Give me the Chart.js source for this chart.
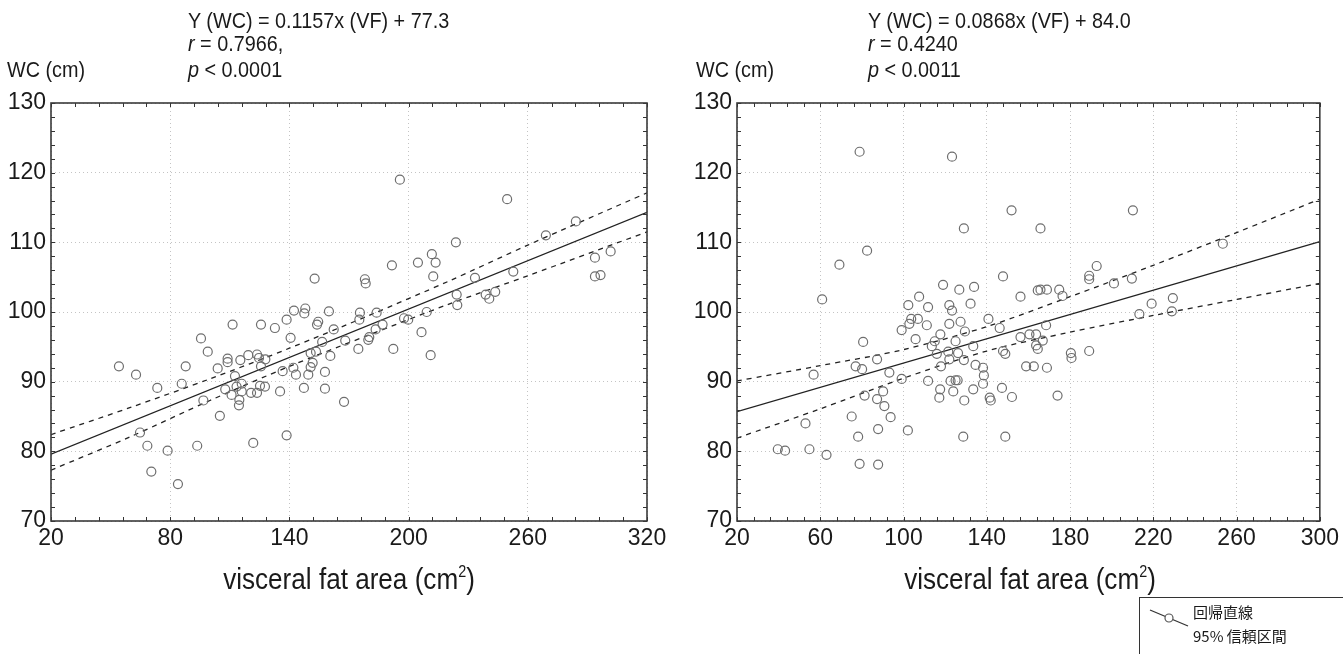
<!DOCTYPE html>
<html>
<head>
<meta charset="utf-8">
<script src="https://cdn.jsdelivr.net/npm/chart.js@4"></script>
<style>
  body { margin: 0; width: 1343px; height: 654px; background: #fff; position: relative; overflow: hidden;
         font-family: "Liberation Sans", Arial, sans-serif; color: #1a1a1a; }
  canvas { position: absolute; top: 0; }
  .txt { position: absolute; font-size: 22px; line-height: 24px; white-space: nowrap;
         transform: scaleX(0.9); transform-origin: left center; }
  .xt { position: absolute; font-size: 29px; white-space: nowrap; text-align: center; width: 400px;
        transform: scaleX(0.9); transform-origin: center center; }
  .xt sup { font-size: 16px; vertical-align: 12px; line-height: 0; }
  #legend { position: absolute; left: 1139px; top: 597px; width: 210px; height: 70px; border: 1.5px solid #333;
            font-family: "Noto Sans CJK JP", sans-serif; font-size: 15px; line-height: 24px; }
</style>
</head>
<body>
<canvas id="leftChart" width="680" height="654" style="left:0"></canvas>
<canvas id="rightChart" width="663" height="654" style="left:680px"></canvas>

<div class="txt" style="left:188px;top:9px">Y (WC) = 0.1157x (VF) + 77.3</div>
<div class="txt" style="left:188px;top:32px"><i>r</i> = 0.7966,</div>
<div class="txt" style="left:7px;top:58px">WC (cm)</div>
<div class="txt" style="left:188px;top:58px"><i>p</i> &lt; 0.0001</div>
<div class="xt" style="left:149px;top:563px">visceral fat area (cm<sup>2</sup>)</div>

<div class="txt" style="left:868px;top:9px">Y (WC) = 0.0868x (VF) + 84.0</div>
<div class="txt" style="left:868px;top:32px"><i>r</i> = 0.4240</div>
<div class="txt" style="left:696px;top:58px">WC (cm)</div>
<div class="txt" style="left:868px;top:58px"><i>p</i> &lt; 0.0011</div>
<div class="xt" style="left:830px;top:563px">visceral fat area (cm<sup>2</sup>)</div>

<div id="legend">
  <svg width="44" height="30" style="position:absolute;left:8px;top:6px">
    <line x1="2" y1="6" x2="40" y2="22" stroke="#333" stroke-width="1.2"/>
    <circle cx="21" cy="14" r="4" fill="#fff" stroke="#555" stroke-width="1.2"/>
  </svg>
  <div style="position:absolute;left:53px;top:2px">回帰直線</div>
  <div style="position:absolute;left:53px;top:26px">95% 信頼区間</div>
</div>

<script>
// left panel: WC vs visceral fat area
const leftVF = [54.2, 87.8, 95.5, 98.9, 108.9, 108.9, 103.9, 111.4, 115.3, 119.3, 123.7, 124.7, 127.9, 125.7, 132.7,
  138.6, 140.6, 142.3, 148.0, 147.5, 152.7, 154.5, 153.9, 159.9, 162.3, 156.5, 150.7, 153.4, 160.6, 151.7, 168.1,
  175.5, 175.2, 174.7, 195.6, 249.6, 284.2, 269.1, 223.8, 211.7, 213.6, 204.7, 191.6, 178.0, 178.4, 212.4, 233.4,
  252.7, 224.2, 224.5, 238.8, 240.6, 243.6, 293.8, 301.7, 293.8, 296.6, 183.9, 197.7, 199.8, 209.1, 206.5, 186.9,
  183.4, 180.2, 179.7, 192.3, 211.1, 167.5, 62.8, 73.5, 64.8, 68.5, 78.7, 70.5, 83.9, 85.8, 96.7, 93.6, 105.0,
  107.7, 110.9, 112.6, 113.4, 114.8, 114.6, 116.0, 116.0, 120.7, 123.7, 125.2, 127.7, 121.8, 125.7, 135.3, 136.6,
  138.6, 142.0, 143.3, 147.3, 149.5, 150.7, 157.9, 157.9];
const leftWC = [92.2, 92.2, 96.2, 94.3, 93.3, 92.8, 91.9, 98.2, 93.1, 93.8, 93.9, 93.4, 93.2, 98.2, 97.7,
  98.9, 96.3, 100.2, 100.5, 99.8, 104.8, 98.6, 98.2, 100.1, 97.5, 95.7, 94.1, 94.3, 93.7, 92.7, 95.9,
  99.9, 98.9, 94.7, 119.0, 116.2, 113.0, 111.0, 110.0, 108.3, 107.1, 107.1, 106.7, 104.7, 104.1, 105.1, 104.9,
  105.8, 102.5, 101.0, 102.5, 101.9, 102.9, 107.8, 108.7, 105.1, 105.3, 99.9, 99.1, 98.9, 100.0, 97.1, 98.2,
  97.5, 96.4, 96.0, 94.7, 93.8, 87.1, 91.0, 89.1, 82.7, 80.8, 80.1, 77.1, 75.3, 89.7, 87.3, 80.8, 85.1,
  88.9, 88.1, 90.8, 89.3, 87.4, 86.6, 89.7, 88.6, 88.4, 88.4, 89.4, 89.3, 81.2, 92.2, 88.6, 91.5,
  82.3, 92.0, 91.0, 89.1, 91.0, 92.1, 91.4, 89.0];
const leftFitX = [20, 320];
const leftFitY = [79.6, 114.3];
const leftBandX = [20, 60, 100, 140, 180, 220, 260, 320];
const leftUpper = [82.4, 86.3, 90.4, 94.8, 99.5, 104.4, 109.6, 117.1];
const leftLower = [77.3, 82.1, 87.3, 92.2, 96.7, 101.1, 105.2, 111.5];

// right panel
const rightVF = [78.9, 123.3, 151.9, 129.0, 82.5, 69.2, 60.9, 80.6, 147.8, 156.2, 164.5, 119.0, 126.8, 133.9, 107.5,
  102.3, 111.8, 122.0, 123.3, 132.2, 103.7, 102.8, 106.9, 99.1, 111.2, 122.0, 127.4, 129.5, 117.7, 105.8, 140.8,
  146.2, 156.2, 160.5, 163.7, 163.7, 164.5, 115.0, 113.6, 116.0, 121.5, 125.0, 126.2, 133.5, 122.0, 118.0, 129.0,
  134.6, 138.2, 87.3, 77.0, 80.1, 147.8, 148.9, 158.9, 162.6, 210.2, 165.8, 253.4, 192.8, 189.2, 189.2, 201.1,
  209.7, 165.8, 168.9, 174.8, 176.4, 219.2, 229.4, 213.3, 228.9, 168.5, 166.9, 180.4, 180.7, 189.2, 168.9, 174.0,
  56.8, 93.2, 99.1, 138.6, 111.8, 122.6, 125.0, 126.0, 138.2, 81.3, 87.3, 90.2, 90.8, 93.8, 87.8, 75.1,
  78.2, 78.9, 87.8, 102.1, 52.9, 39.6, 43.1, 54.8, 63.0, 117.6, 117.2, 123.9, 129.2, 133.5, 141.4, 141.9,
  147.3, 152.1, 128.7, 148.9];
const rightWC = [123.0, 122.3, 114.6, 112.0, 108.8, 106.8, 101.8, 95.7, 105.1, 102.2, 103.1, 103.9, 103.2, 103.6, 102.2,
  101.0, 100.7, 101.0, 100.2, 101.2, 99.0, 98.3, 99.0, 97.4, 98.1, 98.3, 98.6, 97.2, 96.8, 96.1, 99.0,
  97.7, 96.4, 96.8, 96.8, 95.2, 94.7, 95.8, 95.1, 94.0, 94.3, 95.8, 94.1, 95.1, 93.2, 92.2, 93.1,
  92.4, 92.0, 93.2, 92.2, 91.8, 94.4, 94.0, 92.2, 92.2, 114.6, 112.0, 109.8, 106.6, 105.2, 104.7, 104.1,
  104.8, 103.2, 103.2, 103.2, 102.3, 101.2, 102.0, 99.7, 100.1, 98.1, 95.9, 94.1, 93.4, 94.4, 92.0, 88.0,
  91.0, 91.3, 90.4, 90.9, 90.1, 90.1, 90.2, 90.2, 89.7, 88.0, 87.5, 88.6, 86.5, 84.9, 83.2, 85.0,
  82.1, 78.2, 78.1, 83.0, 84.0, 80.3, 80.1, 80.3, 79.5, 88.9, 87.7, 88.6, 87.3, 88.9, 87.7, 87.3,
  89.1, 87.8, 82.1, 82.1];
const rightFitX = [20, 300];
const rightFitY = [85.7, 110.1];
const rightBandX = [20, 60, 100, 140, 180, 220, 260, 300];
const rightUpper = [90.1, 92.3, 94.6, 97.9, 102.2, 106.7, 111.4, 116.2];
const rightLower = [81.9, 86.1, 90.5, 94.4, 97.1, 99.5, 101.8, 104.1];

Chart.defaults.font.family = '"Liberation Sans", Arial, sans-serif';
Chart.defaults.color = '#1a1a1a';

function pts(xs, ys) {
  return xs.map((x, i) => ({x: x, y: ys[i]}));
}

// frame box + small inward ticks on all four sides
const frameTicks = {
  id: 'frameTicks',
  afterDatasetsDraw(chart, args, opts) {
    const ctx = chart.ctx;
    const a = chart.chartArea;
    const x = chart.scales.x;
    const y = chart.scales.y;
    ctx.save();
    ctx.strokeStyle = '#333';
    ctx.lineWidth = 1;
    ctx.beginPath();
    const nx = Math.round((x.max - x.min) / opts.xStep);
    for (let i = 0; i <= nx; i++) {
      const px = Math.round(x.getPixelForValue(x.min + i * opts.xStep)) + 0.5;
      ctx.moveTo(px, a.bottom); ctx.lineTo(px, a.bottom - 4);
      ctx.moveTo(px, a.top); ctx.lineTo(px, a.top + 4);
    }
    const ny = Math.round((y.max - y.min) / opts.yStep);
    for (let i = 0; i <= ny; i++) {
      const py = Math.round(y.getPixelForValue(y.min + i * opts.yStep)) + 0.5;
      ctx.moveTo(a.left, py); ctx.lineTo(a.left + 4, py);
      ctx.moveTo(a.right, py); ctx.lineTo(a.right - 4, py);
    }
    ctx.stroke();
    ctx.lineWidth = 1.6;
    ctx.strokeStyle = '#3a3a3a';
    ctx.strokeRect(a.left, a.top, a.width, a.height);
    ctx.restore();
  }
};

function makeChart(id, vf, wc, fitX, fitY, bandX, upper, lower, xMax, xStep, minorX, leftW, padRight) {
  return new Chart(document.getElementById(id).getContext('2d'), {
    data: {
      datasets: [
        {type: 'scatter', data: pts(vf, wc), pointStyle: 'circle', pointRadius: 4.5,
          borderColor: '#6e6e6e', backgroundColor: 'rgba(0,0,0,0)', borderWidth: 1.2},
        {type: 'line', data: pts(fitX, fitY), borderColor: '#222', borderWidth: 1.3, pointRadius: 0},
        {type: 'line', data: pts(bandX, upper), borderColor: '#222', borderWidth: 1.3, pointRadius: 0,
          borderDash: [5, 5], tension: 0.3},
        {type: 'line', data: pts(bandX, lower), borderColor: '#222', borderWidth: 1.3, pointRadius: 0,
          borderDash: [5, 5], tension: 0.3}
      ]
    },
    options: {
      responsive: false,
      animation: false,
      devicePixelRatio: 1,
      layout: {padding: {left: 0, top: 103, right: padRight, bottom: 93}},
      plugins: {legend: {display: false}, tooltip: {enabled: false}, frameTicks: {xStep: minorX, yStep: 2}},
      scales: {
        x: {
          type: 'linear', min: 20, max: xMax,
          ticks: {stepSize: xStep, padding: 4, font: {size: 23}, maxRotation: 0},
          grid: {color: '#c4c4c4', lineWidth: 1, drawTicks: false},
          border: {display: false, dash: [1, 3]},
          afterFit: s => { s.height = 40; }
        },
        y: {
          min: 70, max: 130,
          ticks: {stepSize: 10, padding: 5, font: {size: 23}},
          grid: {color: '#c4c4c4', lineWidth: 1, drawTicks: false},
          border: {display: false, dash: [1, 3]},
          afterFit: s => { s.width = leftW; }
        }
      }
    },
    plugins: [frameTicks]
  });
}

makeChart('leftChart', leftVF, leftWC, leftFitX, leftFitY, leftBandX, leftUpper, leftLower, 320, 60, 12, 51, 33);
makeChart('rightChart', rightVF, rightWC, rightFitX, rightFitY, rightBandX, rightUpper, rightLower, 300, 40, 8, 57, 19);
</script>
</body>
</html>
